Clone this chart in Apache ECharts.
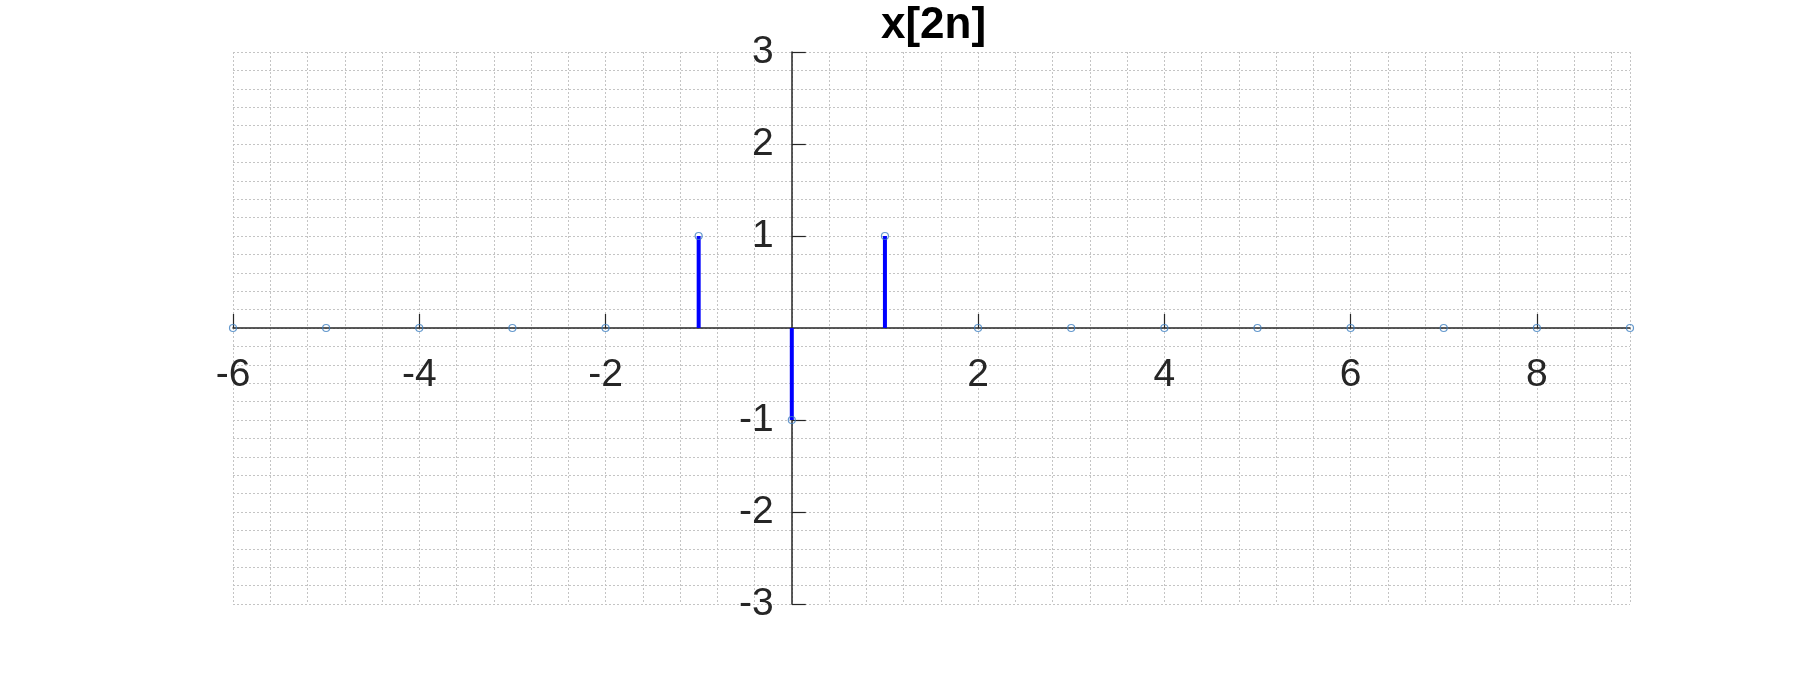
<!DOCTYPE html>
<html>
<head>
<meta charset="utf-8">
<script src="https://cdn.jsdelivr.net/npm/echarts@6/dist/echarts.min.js"></script>
<style>
html,body{margin:0;padding:0;background:#fff;}
#chart{width:1800px;height:680px;}
</style>
</head>
<body>
<div id="chart"></div>
<script>
const titleText = 'x[2n]';
const nValues = [-6,-5,-4,-3,-2,-1,0,1,2,3,4,5,6,7,8,9];
const xValues = [0,0,0,0,0,1,-1,1,0,0,0,0,0,0,0,0];
const xTickLabels = [-6,-4,-2,2,4,6,8];
const yTickLabels = [-3,-2,-1,1,2,3];

const points = nValues.map((n, i) => [n, xValues[i]]);
const FONT = 'Liberation Sans, Arial, Helvetica, sans-serif';
const gridStyle = {color: '#c4c4c4', width: 1, type: [2, 2]};
const GRID = {left: 233, right: 170, top: 52, bottom: 76};

const chart = echarts.init(document.getElementById('chart'), null, {renderer: 'canvas'});

function buildOption(xOffset, yOffset) {
  return {
    animation: false,
    backgroundColor: '#ffffff',
    title: {
      text: titleText,
      left: 876,
      top: -1,
      textStyle: {fontFamily: FONT, fontWeight: 'bold', fontSize: 44, color: '#000000'}
    },
    grid: Object.assign({containLabel: false}, GRID),
    xAxis: [
      {
        type: 'value',
        position: 'bottom',
        offset: xOffset,
        min: -6, max: 9, interval: 2,
        axisLine: {show: true, onZero: false, lineStyle: {color: '#262626', width: 1.5}},
        axisTick: {show: true, inside: true, length: 14, customValues: xTickLabels, lineStyle: {color: '#262626', width: 1.2}},
        axisLabel: {
          show: true, margin: 28, customValues: xTickLabels,
          fontFamily: FONT, fontSize: 39, color: '#262626',
          formatter: v => (v === 0 ? '' : String(v))
        },
        splitLine: {show: false},
        z: 2
      },
      {
        type: 'value',
        position: 'bottom',
        min: -6, max: 9, interval: 0.4,
        axisLine: {show: false, onZero: false},
        axisTick: {show: false},
        axisLabel: {show: false},
        splitLine: {show: true, lineStyle: gridStyle},
        z: 0
      }
    ],
    yAxis: {
      type: 'value',
      position: 'left',
      offset: yOffset,
      min: -3, max: 3, interval: 1,
      axisLine: {show: true, onZero: false, lineStyle: {color: '#262626', width: 1.5}},
      axisTick: {show: true, inside: true, length: 14, customValues: yTickLabels, lineStyle: {color: '#262626', width: 1.2}},
      axisLabel: {
        show: true, margin: 18, customValues: yTickLabels,
        fontFamily: FONT, fontSize: 39, color: '#262626',
        formatter: v => (v === 0 ? '' : String(v))
      },
      splitLine: {show: false},
      minorTick: {show: false, splitNumber: 5},
      minorSplitLine: {show: false}
    },
    series: [
      {
        type: 'custom',
        xAxisIndex: 0,
        data: points,
        z: 3,
        renderItem: function (params, api) {
          const p0 = api.coord([api.value(0), 0]);
          const p1 = api.coord([api.value(0), api.value(1)]);
          return {
            type: 'line',
            shape: {x1: p0[0], y1: p0[1], x2: p1[0], y2: p1[1]},
            style: {stroke: '#0000ff', lineWidth: 4}
          };
        }
      },
      {
        type: 'scatter',
        xAxisIndex: 0,
        data: points,
        z: 4,
        symbol: 'circle',
        symbolSize: 7,
        itemStyle: {color: 'rgba(255,255,255,0)', borderColor: '#3f7fc0', borderWidth: 1.2}
      }
    ]
  };
}

function gridYAxis() {
  // hidden helper y axis that only draws the dotted horizontal grid every 0.2
  return {
    type: 'value', position: 'right', min: -3, max: 3, interval: 0.2,
    axisLine: {show: false, onZero: false}, axisTick: {show: false}, axisLabel: {show: false},
    splitLine: {show: true, lineStyle: gridStyle}, z: 0
  };
}

function fullOption(xOffset, yOffset) {
  const o = buildOption(xOffset, yOffset);
  o.yAxis = [o.yAxis, gridYAxis()];
  o.series.forEach(s => { s.yAxisIndex = 0; });
  return o;
}

chart.setOption(fullOption(0, 0));
// place both axes through the origin, using the library's own scale
const zero = chart.convertToPixel({xAxisIndex: 0, yAxisIndex: 0}, [0, 0]);
const gridBottom = 680 - GRID.bottom;
const xOffset = zero[1] - gridBottom;
const yOffset = GRID.left - zero[0];
chart.setOption(fullOption(xOffset, yOffset), true);
</script>
</body>
</html>
